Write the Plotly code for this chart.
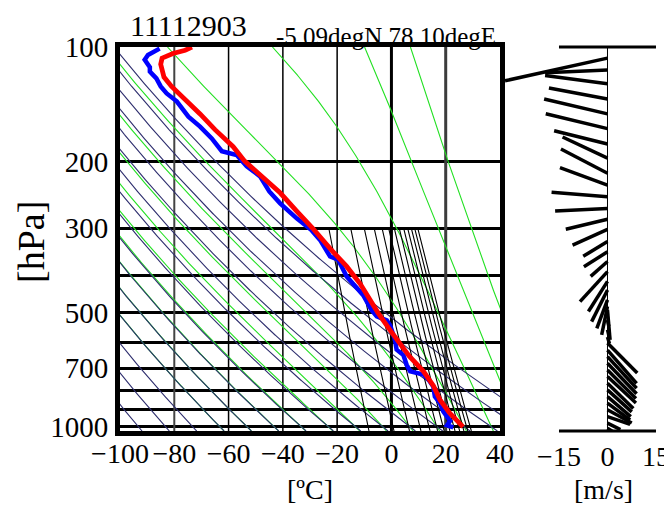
import numpy as np
import plotly.graph_objects as go

# ---------------- data ----------------
station_id = "11112903"
location = "-5.09degN 78.10degE"

temp_p = [100, 102, 104, 107, 111, 115, 120, 127, 135, 150, 165, 183, 200, 224, 242, 270,
          300, 340, 378, 420, 463, 500, 556, 600, 650, 714, 780, 849, 920, 1000]
temp_c = [-73.5, -76, -80.5, -84.5, -85, -84.5, -83.8, -81, -77, -70.5, -65, -58.3, -54, -46,
          -41, -35, -29, -22.5, -16.5, -11.5, -7.9, -5.0, -0.5, 3.0, 6.5, 11.8, 15.5, 17.9, 21.5, 26.4]

dew_p = [101, 105, 108, 113, 116, 121, 127, 132.5, 139, 152.5, 162, 174, 188, 192.5, 206, 219,
         240, 258, 282.5, 303, 322, 332, 356, 363, 402, 450, 493, 512, 524, 540, 590, 626, 647,
         686, 714, 728, 750, 782, 832, 866, 910, 965, 990, 1003]
dew_c = [-85.4, -89.7, -90.9, -89, -89, -86.6, -85, -82.8, -79.1, -74.8, -70.5, -66.2, -62.5,
         -57, -53.3, -48.4, -45, -41, -34.9, -29.5, -26.3, -25.1, -22.6, -19.6, -16.5, -10.4,
         -7.3, -5.4, -1.7, -0.5, 1.3, 1.9, 4.4, 5.6, 6.9, 11.8, 13.6, 15.4, 16.0, 17.9, 19.1,
         21.6, 20.5, 22.8]

wind_p = [107, 115, 125, 137, 150, 164, 180, 196, 215, 231, 248, 266, 284, 302, 325, 346, 367,
          390, 414, 436, 463, 482, 492, 523, 555, 580, 601, 628, 653, 680, 708, 737, 767, 799,
          832, 866, 901, 939, 977, 1008]
wind_u = [-31.7, -19.3, -19.3, -18.1, -19.6, -19.1, -16.5, -13.9, -14.4, -14.7, -17.3, -16.2,
          -12.9, -10.8, -7.5, -7.3, -5.2, -8.5, -5.9, -4.9, -3.3, -1.8, 0.8, 0.4, 0.5, 0.6,
          9.2, 9.0, 9.0, 9.0, 8.8, 8.8, 8.0, 7.5, 7.2, 7.0, 7.5, 7.0, 4.0, 6.5]
wind_v = [-7.0, -0.8, 2.6, 3.4, 4.6, 4.6, 4.1, 6.5, 7.5, 5.4, 1.4, -0.8, -3.1, -4.9, -4.6,
          -4.6, -4.6, -9.3, -9.3, -9.8, -8.8, -8.8, -9.3, -2.0, -2.0, -2.0,
          -9.3, -10.3, -9.8, -9.4, -8.8, -8.2, -7.8, -6.8, -6.2, -5.2, -4.1, -2.4, -2.0, -4.1]

t_tick_vals = [-100, -80, -60, -40, -20, 0, 20, 40]
p_tick_vals = [100, 200, 300, 500, 700, 1000]
p_grid_minor = [400, 600, 800, 900]
t_grid_vals = [-80, -60, -40, -20, 0, 20]
wind_tick_vals = [-15, 0, 15]

dry_theta_K = list(range(180, 340, 10))
moist_T0_K = list(range(210, 340, 10))
mix_ratio_gkg = list(range(2, 28, 2))

# ---------------- geometry (page pixels; the page body adds an 8px margin) ----------------
OFF = 8
W, H = 672 - OFF, 508 - OFF
PL, PR, PT, PB = 120, 500, 47, 431           # main plot box
WL, WR = 478, 672                           # wind axis domain
P_TOP, P_BOT = 100.0, 1025.0
T_MIN, T_MAX = -100, 40
W_RNG = [-40.05, 19.95]

def fx(px):
    return (px - OFF) / W

def fy(py):
    return 1 - (py - OFF) / H

FONT = "Liberation Serif"

# ---------------- thermodynamic diagram lines ----------------
p_full = np.logspace(np.log10(P_TOP), np.log10(P_BOT), 400)

def add_sep(xs, ys, x, y):
    xs.extend(list(x) + [None])
    ys.extend(list(y) + [None])

dry_x, dry_y = [], []
for th in dry_theta_K:
    add_sep(dry_x, dry_y, th * (p_full / 1000.0) ** 0.2857 - 273.15, p_full)

Rd, Cp, Lv, EPS = 287.04, 1005.7, 2.501e6, 0.622

def es_hpa(T):
    tc = T - 273.15
    return 6.112 * np.exp(17.67 * tc / (tc + 243.5))

def dTdlnp(T, p):
    e = es_hpa(T)
    rs = EPS * e / (p - e)
    return (Rd * T + Lv * rs) / (Cp + Lv * Lv * rs * EPS / (Rd * T * T))

def integrate(T0, lnp):
    out = [T0]
    T = T0
    for i in range(len(lnp) - 1):
        h = lnp[i + 1] - lnp[i]
        p0, pm, p1 = np.exp(lnp[i]), np.exp(lnp[i] + h / 2), np.exp(lnp[i + 1])
        k1 = dTdlnp(T, p0)
        k2 = dTdlnp(T + h * k1 / 2, pm)
        k3 = dTdlnp(T + h * k2 / 2, pm)
        k4 = dTdlnp(T + h * k3, p1)
        T = T + h * (k1 + 2 * k2 + 2 * k3 + k4) / 6
        out.append(T)
    return np.array(out)

moist_x, moist_y = [], []
lnp_up = np.linspace(np.log(1000.0), np.log(P_TOP), 300)
lnp_dn = np.linspace(np.log(1000.0), np.log(P_BOT), 10)
for T0 in moist_T0_K:
    up = integrate(float(T0), lnp_up)[::-1]
    dn = integrate(float(T0), lnp_dn)[1:]
    Ts = np.concatenate([up, dn]) - 273.15
    ps = np.exp(np.concatenate([lnp_up[::-1], lnp_dn[1:]]))
    add_sep(moist_x, moist_y, Ts, ps)

mix_x, mix_y = [], []
p_mix = np.logspace(np.log10(300.0), np.log10(P_BOT), 100)
for w in mix_ratio_gkg:
    e = w * p_mix / (622.0 + w)
    le = np.log(e / 6.112)
    add_sep(mix_x, mix_y, 243.5 * le / (17.67 - le), p_mix)

fig = go.Figure()

# vertical isotherm grid lines
grid_style = {-80: ("#444444", 2), -60: ("black", 1.5), -40: ("black", 1.5),
              -20: ("black", 1.5), 0: ("black", 3), 20: ("#3c3c3c", 3)}
for t in t_grid_vals:
    col, wd = grid_style[t]
    fig.add_trace(go.Scatter(x=[t, t], y=[P_TOP, P_BOT], mode="lines",
                             line=dict(color=col, width=wd), hoverinfo="skip"))

fig.add_trace(go.Scatter(x=moist_x, y=moist_y, mode="lines",
                         line=dict(color="#22e022", width=1.1), hoverinfo="skip"))
fig.add_trace(go.Scatter(x=dry_x, y=dry_y, mode="lines",
                         line=dict(color="#2e2e6e", width=1.1), hoverinfo="skip"))
fig.add_trace(go.Scatter(x=mix_x, y=mix_y, mode="lines",
                         line=dict(color="black", width=1.1), hoverinfo="skip"))

fig.add_trace(go.Scatter(x=dew_c, y=dew_p, mode="lines",
                         line=dict(color="#0000ff", width=4.5), hoverinfo="skip"))
fig.add_trace(go.Scatter(x=temp_c, y=temp_p, mode="lines",
                         line=dict(color="#ff0000", width=4.8), hoverinfo="skip"))

# ---------------- wind sticks ----------------
px_per_ms = (WR - WL) / (W_RNG[1] - W_RNG[0])
px_per_dec = (PB - PT) / (np.log10(P_BOT) - np.log10(P_TOP))
k = px_per_ms / px_per_dec
sx, sy = [], []
for p, u, v in zip(wind_p, wind_u, wind_v):
    sx += [0, u, None]
    sy += [p, 10 ** (np.log10(p) - v * k), None]
fig.add_trace(go.Scatter(x=sx, y=sy, mode="lines", xaxis="x2", yaxis="y2",
                         line=dict(color="black", width=3.5), hoverinfo="skip"))

ydom = [fy(PB), fy(PT)]
xtickfont = dict(family=FONT, size=28, color="black")
ytickfont = dict(family=FONT, size=29, color="black")
fig.update_layout(
    template="none",
    width=W, height=H, margin=dict(l=0, r=0, t=0, b=0, pad=0), autosize=False,
    paper_bgcolor="white", plot_bgcolor="rgba(0,0,0,0)", showlegend=False, hovermode=False,
    font=dict(family=FONT, color="black"),
    xaxis=dict(domain=[fx(PL), fx(PR)], range=[T_MIN, T_MAX], tickvals=t_tick_vals,
               showgrid=False, zeroline=False, showline=True, mirror=True,
               linewidth=5, linecolor="black", ticks="", tickfont=xtickfont,
               tickangle=0, automargin=False, ticklabelstandoff=-7),
    yaxis=dict(domain=ydom, type="log", range=[np.log10(P_BOT), np.log10(P_TOP)],
               tickvals=p_tick_vals, showgrid=True, gridcolor="black", gridwidth=2.5,
               minor=dict(tickvals=p_grid_minor, showgrid=True, gridcolor="black",
                          gridwidth=2.5, ticks=""),
               zeroline=False, showline=True, mirror=True, linewidth=5,
               linecolor="black", ticks="", tickfont=ytickfont, automargin=False,
               ticklabelstandoff=1),
    xaxis2=dict(domain=[fx(WL), fx(WR)], range=W_RNG, tickvals=wind_tick_vals,
                anchor="y2", showgrid=False, zeroline=False, showline=False, ticks="",
                tickfont=xtickfont, tickangle=0, automargin=False, ticklabelstandoff=6),
    yaxis2=dict(domain=ydom, type="log", range=[np.log10(P_BOT), np.log10(P_TOP)],
                anchor="x2", visible=False, automargin=False),
)

# wind panel frame
fig.add_shape(type="line", xref="x2", yref="y2 domain", x0=0, x1=0, y0=0, y1=1,
              line=dict(color="black", width=1))
for yd in (0.0, 1.0):
    fig.add_shape(type="line", xref="x2", yref="y2 domain", x0=-15, x1=15, y0=yd, y1=yd,
                  line=dict(color="black", width=3))

def ann(text, xpx, ypx, size, angle=0):
    fig.add_annotation(text=text, x=fx(xpx), y=fy(ypx), xref="paper", yref="paper",
                       showarrow=False, xanchor="center", yanchor="middle", textangle=angle,
                       font=dict(family=FONT, size=size, color="black"))

ann(station_id, 188, 25.5, 30)
ann(location, 386, 36, 25)
ann("[hPa]", 31, 242, 38, -90)
ann("[ºC]", 310, 489, 28)
ann("[m/s]", 603, 489, 28)

fig.write_html("out.html")
